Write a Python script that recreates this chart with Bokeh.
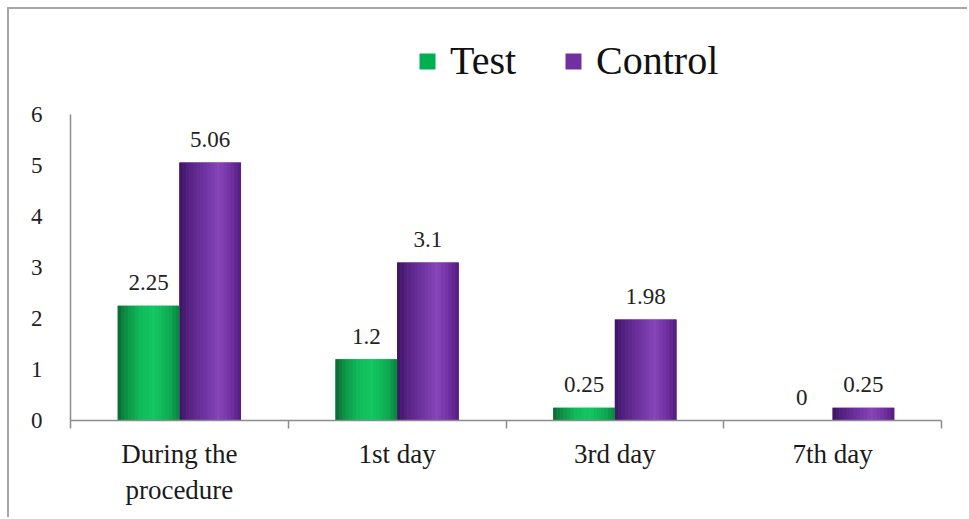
from bokeh.plotting import figure
from bokeh.models import (ColumnDataSource, Range1d, LinearAxis,
                          FixedTicker, Legend, LegendItem)
from bokeh.transform import dodge
from bokeh.core.properties import value
from bokeh.embed import file_html
from bokeh.resources import INLINE

categories = ["During the\nprocedure", "1st day", "3rd day", "7th day"]
test_values = [2.25, 1.2, 0.25, 0]
control_values = [5.06, 3.1, 1.98, 0.25]
y_ticks = [0, 1, 2, 3, 4, 5, 6]

centers = [i + 0.5 for i in range(len(categories))]
source = ColumnDataSource(dict(
    xc=centers,
    test=test_values,
    control=control_values,
    test_lbl=[f"{v:g}" for v in test_values],
    control_lbl=[f"{v:g}" for v in control_values],
))

SERIF = "'Liberation Serif', 'Times New Roman', serif"
p = figure(width=960, height=510, x_range=Range1d(0, len(categories)),
           y_range=Range1d(0, 8),
           output_backend="svg", toolbar_location=None, x_axis_location=None,
           min_border_left=61, min_border_right=28, min_border_top=3,
           min_border_bottom=99)
p.margin = (7, 0, 0, 7)
p.styles = {"border-top": "2px solid #a6a6a6", "border-left": "2px solid #a6a6a6"}
p.outline_line_color = None
p.xgrid.visible = False
p.ygrid.visible = False
p.background_fill_color = "white"
p.border_fill_color = "white"

# y axis
ya = p.yaxis[0]
ya.ticker = FixedTicker(ticks=y_ticks)
ya.bounds = (min(y_ticks), max(y_ticks))
ya.axis_line_color = "#8c8c8c"
ya.axis_line_width = 1.5
ya.major_tick_line_color = None
ya.minor_tick_line_color = None
ya.major_label_text_font = SERIF
ya.major_label_text_font_size = "23px"
ya.major_label_text_color = "#222222"
ya.major_label_standoff = 22

# x axis: line with boundary ticks
edge_axis = LinearAxis(ticker=FixedTicker(ticks=list(range(len(categories) + 1))))
edge_axis.axis_line_color = "#8c8c8c"
edge_axis.axis_line_width = 1.5
edge_axis.major_tick_line_color = "#8c8c8c"
edge_axis.major_tick_line_width = 1.5
edge_axis.major_tick_in = 0
edge_axis.major_tick_out = 8
edge_axis.minor_tick_line_color = None
edge_axis.major_label_text_font_size = "1px"
edge_axis.major_label_text_color = None
edge_axis.major_label_standoff = 0
p.add_layout(edge_axis, "below")

cat_axis = LinearAxis(ticker=FixedTicker(ticks=centers),
                      major_label_overrides={c: name for c, name in zip(centers, categories)})
cat_axis.axis_line_color = None
cat_axis.major_tick_line_color = None
cat_axis.minor_tick_line_color = None
cat_axis.major_label_text_font = SERIF
cat_axis.major_label_text_font_size = "27px"
cat_axis.major_label_text_color = "#1a1a1a"
cat_axis.major_label_standoff = 4
p.add_layout(cat_axis, "below")

# bars with shaded strips
W = 0.283
N = 18
green_profile = [(0.0, (10, 100, 48)), (0.12, (13, 140, 68)), (0.35, (17, 185, 90)),
                 (0.6, (20, 200, 98)), (0.85, (15, 170, 82)), (1.0, (10, 130, 62))]
purple_profile = [(0.0, (58, 20, 95)), (0.12, (80, 32, 125)), (0.4, (110, 50, 160)),
                  (0.65, (135, 70, 185)), (0.85, (112, 48, 160)), (1.0, (80, 30, 125))]


def interp(profile, t):
    for (t0, c0), (t1, c1) in zip(profile[:-1], profile[1:]):
        if t0 <= t <= t1:
            f = (t - t0) / (t1 - t0) if t1 > t0 else 0
            r, g, b = [round(a + (bb - a) * f) for a, bb in zip(c0, c1)]
            return f"#{r:02x}{g:02x}{b:02x}"
    return "#000000"


base_test = p.vbar(x=dodge("xc", -W / 2), top="test", width=W,
                   source=source, fill_color="#00b050", line_color=None)
base_ctrl = p.vbar(x=dodge("xc", W / 2), top="control", width=W,
                   source=source, fill_color="#7030a0", line_color=None)

for k in range(N):
    t = (k + 0.5) / N
    off = (k + 0.5) * W / N
    p.vbar(x=dodge("xc", -W + off), top="test", width=W / N * 1.04,
           source=source, fill_color=interp(green_profile, t), line_color=None)
    p.vbar(x=dodge("xc", off), top="control", width=W / N * 1.04,
           source=source, fill_color=interp(purple_profile, t), line_color=None)

# value labels
for col, lbl, off in [("test", "test_lbl", -W / 2), ("control", "control_lbl", W / 2)]:
    p.text(x=dodge("xc", off), y=col, text=lbl, source=source,
           text_align="center", text_baseline="alphabetic", y_offset=-23,
           text_font=value(SERIF), text_font_size="23px", text_color="#222222")

legend = Legend(items=[LegendItem(label="Test", renderers=[base_test]),
                       LegendItem(label="Control", renderers=[base_ctrl])],
                orientation="horizontal", location=(347, 336))
legend.label_text_font = SERIF
legend.label_text_font_size = "40px"
legend.label_text_color = "#111111"
legend.glyph_width = 20
legend.glyph_height = 20
legend.label_standoff = 13
legend.spacing = 47
legend.padding = 0
legend.margin = 0
legend.border_line_color = None
legend.background_fill_alpha = 0
p.add_layout(legend)

open("out.html", "w").write(file_html(p, INLINE))
